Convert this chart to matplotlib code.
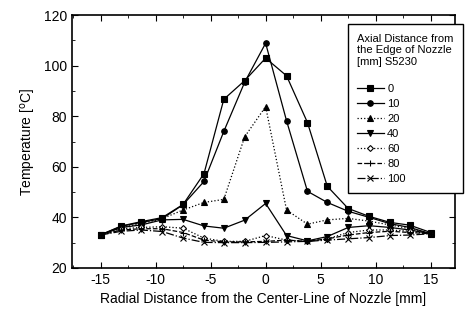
import matplotlib.pyplot as plt
from matplotlib.ticker import MultipleLocator

plt.rcParams['font.family'] = ['Liberation Sans', 'DejaVu Sans']
plt.rcParams['axes.unicode_minus'] = False

# radial positions [mm]
radial = [-15, -13.1, -11.3, -9.4, -7.5, -5.6, -3.8, -1.9, 0,
          1.9, 3.8, 5.6, 7.5, 9.4, 11.3, 13.1, 15]

# temperature [C] for each axial distance
t_0 = [33.1, 36.6, 38.3, 39.9, 45.1, 57.3, 86.7, 94.1, 103,
       96.0, 77.5, 52.3, 43.5, 40.4, 38.0, 36.9, 34.0]
t_10 = [33.0, 36.5, 38.0, 39.5, 45.0, 54.2, 74.0, 93.5, 108.9,
        78.2, 50.3, 45.9, 42.4, 40.0, 37.5, 36.0, 33.5]
t_20 = [33.0, 36.0, 37.5, 39.5, 42.9, 45.9, 47.1, 71.9, 83.8,
        42.9, 37.3, 39.0, 39.6, 38.5, 37.0, 35.5, 33.5]
t_40 = [33.0, 36.0, 37.0, 39.0, 39.2, 36.6, 35.7, 38.9, 45.5,
        32.8, 30.7, 32.4, 36.0, 36.7, 36.0, 35.0, 33.5]
t_60 = [33.0, 35.5, 36.0, 36.3, 35.7, 31.8, 30.5, 30.5, 32.8,
        31.0, 30.5, 31.5, 34.0, 35.0, 35.0, 34.5, 33.5]
t_80 = [33.0, 35.0, 35.5, 35.5, 34.0, 31.0, 30.3, 30.3, 30.5,
        31.0, 30.5, 31.5, 33.0, 34.0, 34.5, 34.0, 33.5]
t_100 = [33.0, 34.5, 35.0, 34.4, 31.8, 30.1, 30.0, 30.0, 30.1,
         30.3, 30.5, 31.0, 31.5, 32.0, 32.8, 33.0, 33.5]

labels = ['0', '10', '20', '40', '60', '80', '100']
series = [t_0, t_10, t_20, t_40, t_60, t_80, t_100]
markers = ['s', 'o', '^', 'v', 'D', '+', 'x']
styles = ['-', '-', ':', '-', ':', '--', '-.']
msizes = [4.5, 4, 4, 5, 3, 5, 4.5]

fig = plt.figure(figsize=(4.7, 3.22), dpi=100)
ax = fig.add_axes([0.153, 0.168, 0.815, 0.785])

for y, lab, m, ls, ms in zip(series, labels, markers, styles, msizes):
    fc = 'white' if m == 'D' else 'black'
    ax.plot(radial, y, color='black', linestyle=ls, linewidth=0.9,
            marker=m, markersize=ms, markerfacecolor=fc,
            markeredgecolor='black', markeredgewidth=0.8, label=lab)

ax.set_xlim(-17.6, 17.2)
ax.set_ylim(20, 120)
ax.xaxis.set_major_locator(MultipleLocator(5))
ax.xaxis.set_minor_locator(MultipleLocator(2.5))
ax.yaxis.set_major_locator(MultipleLocator(20))
ax.yaxis.set_minor_locator(MultipleLocator(10))
ax.tick_params(which='both', direction='in', top=True, right=True,
               labelsize=10)
ax.tick_params(which='major', length=4)
ax.tick_params(which='minor', length=2.5)
for s in ax.spines.values():
    s.set_linewidth(1.2)

ax.set_xlabel('Radial Distance from the Center-Line of Nozzle [mm]',
              fontsize=10)
ax.set_ylabel('Temperature [$^\\mathrm{o}$C]', fontsize=10)

leg = ax.legend(title='Axial Distance from\nthe Edge of Nozzle\n[mm] S5230',
                loc='upper left', bbox_to_anchor=(0.72, 0.964),
                fontsize=8, title_fontsize=8, frameon=True, fancybox=False,
                edgecolor='black', handlelength=2.4, handletextpad=0.3,
                labelspacing=0.45, borderpad=0.85, borderaxespad=0,
                framealpha=1)
leg._legend_box.align = 'left'
leg._legend_box.sep = 12  # a bit more room under the title
leg.get_frame().set_linewidth(1.0)

fig.savefig('out.png', dpi=100)
